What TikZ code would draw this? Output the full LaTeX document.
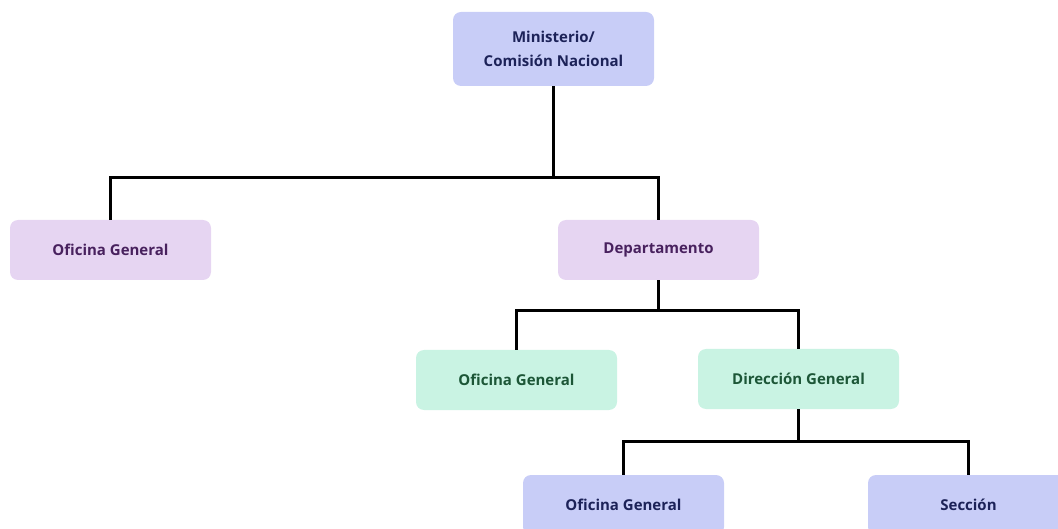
\documentclass[tikz,border=0pt]{standalone}
\usepackage{fontspec}
\setmainfont{Open Sans}
\definecolor{bluefill}{HTML}{C8CDF7}
\definecolor{bluetext}{HTML}{1C2258}
\definecolor{purplefill}{HTML}{E6D5F2}
\definecolor{purpletext}{HTML}{48215E}
\definecolor{greenfill}{HTML}{C9F3E3}
\definecolor{greentext}{HTML}{1C5637}
\tikzset{
  box/.style={rounded corners=8pt, minimum width=201pt, minimum height=60pt, inner sep=0pt, align=center, font=\bfseries\fontsize{15}{24}\selectfont},
  bluebox/.style={box, fill=bluefill, text=bluetext},
  purplebox/.style={box, fill=purplefill, text=purpletext},
  greenbox/.style={box, fill=greenfill, text=greentext},
  conn/.style={draw=black, line width=3pt}
}
\begin{document}
\begin{tikzpicture}[x=1pt,y=1pt]
\useasboundingbox (0,0) rectangle (1058,528);
\clip (0,0) rectangle (1058,528);
\node[bluebox, minimum height=74pt] (top) at (553.5,479) {Ministerio/\\Comisión Nacional};
\node[purplebox] (ofi1) at (110.5,278) {Oficina General};
\node[purplebox] (dept) at (658.5,278) {Departamento};
\node[greenbox] (ofi2) at (516.5,148) {Oficina General};
\node[greenbox] (dir) at (798.5,149) {Dirección General};
\node[bluebox] (ofi3) at (623.5,23) {Oficina General};
\node[bluebox] (sec) at (968.5,23) {Sección};
\draw[conn] (top.south) -- ++(0,-91) coordinate (b1);
\draw[conn] (ofi1.north) |- (b1) -| (dept.north);
\draw[conn] (dept.south) -- ++(0,-30) coordinate (b2);
\draw[conn] (ofi2.north) |- (b2) -| (dir.north);
\draw[conn] (dir.south) -- ++(0,-32) coordinate (b3);
\draw[conn] (ofi3.north) |- (b3) -| (sec.north);
\end{tikzpicture}
\end{document}
